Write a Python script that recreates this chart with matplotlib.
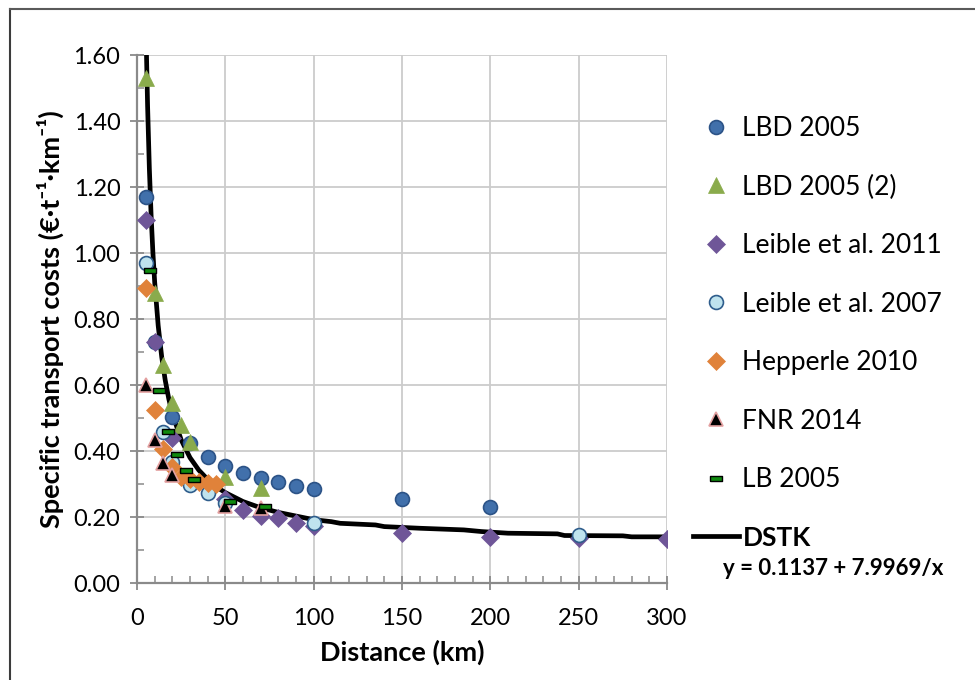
import matplotlib.pyplot as plt
from matplotlib.lines import Line2D
from matplotlib.ticker import MultipleLocator, FormatStrFormatter

plt.rcParams['font.family'] = ['Lato', 'DejaVu Sans']

# data (distance in km, cost in EUR/t/km)
lbd_x = [5, 10, 20, 30, 40, 50, 60, 70, 80, 90, 100, 150, 200]
lbd_y = [1.17, 0.73, 0.503, 0.423, 0.381, 0.356, 0.332, 0.317, 0.305, 0.295, 0.286, 0.254, 0.231]

lbd2_x = [5, 10, 15, 20, 25, 30, 50, 70]
lbd2_y = [1.53, 0.88, 0.66, 0.546, 0.479, 0.426, 0.32, 0.288]

leible11_x = [5, 10, 20, 50, 60, 70, 80, 90, 100, 150, 200, 250, 300]
leible11_y = [1.10, 0.731, 0.44, 0.255, 0.221, 0.203, 0.196, 0.181, 0.172, 0.151, 0.140, 0.135, 0.132]

leible07_x = [5, 15, 20, 30, 40, 50, 100, 250]
leible07_y = [0.97, 0.459, 0.366, 0.297, 0.272, 0.242, 0.182, 0.145]

hepperle_x = [5, 10, 15, 20, 25, 30, 35, 40, 45]
hepperle_y = [0.895, 0.525, 0.406, 0.352, 0.322, 0.315, 0.307, 0.304, 0.300]

fnr_x = [5, 10, 15, 20, 50, 70]
fnr_y = [0.60, 0.433, 0.364, 0.326, 0.233, 0.227]

lb_x = [7.5, 12.5, 17.5, 22.5, 27.5, 32.5, 52.5, 72.5]
lb_y = [0.95, 0.585, 0.46, 0.39, 0.342, 0.316, 0.248, 0.232]

# DSTK fitted curve
dstk_x = [5.3, 6, 7, 8, 9, 10, 12, 14, 16, 18, 20, 25, 30, 35, 40, 45, 50, 60, 70, 80, 90,
          100, 110, 115, 135, 140, 160, 185, 195, 210, 238, 242, 275, 280, 300]
dstk_y = [1.62, 1.446, 1.256, 1.113, 1.002, 0.913, 0.78, 0.685, 0.614, 0.558, 0.513, 0.434,
          0.38, 0.342, 0.314, 0.291, 0.274, 0.247, 0.228, 0.214, 0.203,
          0.192, 0.186, 0.181, 0.176, 0.171, 0.166, 0.161, 0.156, 0.151, 0.149, 0.144, 0.143, 0.140, 0.140]

equation = 'y = 0.1137 + 7.9969/x'

fig = plt.figure(figsize=(9.75, 6.8), dpi=100)
ax = fig.add_axes([0.1405, 0.1426, 0.5436, 0.7765])

ax.plot(dstk_x, dstk_y, color='black', linewidth=3.4, label='DSTK', zorder=2)

ms = 10
ax.plot(lbd_x, lbd_y, 'o', ms=ms, mfc='#4170ab', mec='#2c5387', mew=1.2, label='LBD 2005', zorder=3)
ax.plot(lbd2_x, lbd2_y, '^', ms=ms + 1, mfc='#8aab4c', mec='#8aab4c', mew=0.5, label='LBD 2005 (2)', zorder=3)
ax.plot(leible11_x, leible11_y, 'D', ms=ms - 1, mfc='#6f5698', mec='#6f5698', mew=0.5, label='Leible et al. 2011', zorder=3)
ax.plot(leible07_x, leible07_y, 'o', ms=ms, mfc='#bfe3ee', mec='#2f5d8c', mew=1.2, label='Leible et al. 2007', zorder=3)
ax.plot(hepperle_x, hepperle_y, 'D', ms=ms - 1, mfc='#e0823a', mec='#e0823a', mew=0.5, label='Hepperle 2010', zorder=3)
ax.plot(fnr_x, fnr_y, '^', ms=ms, mfc='black', mec='#e3a0a0', mew=1.2, label='FNR 2014', zorder=3)
dash = [(-1, -0.4), (1, -0.4), (1, 0.4), (-1, 0.4), (-1, -0.4)]
ax.plot(lb_x, lb_y, linestyle='none', marker=dash, ms=9, mfc='#0f8a0f', mec='black', mew=1.0,
        label='LB 2005', zorder=3)

ax.set_xlim(0, 300)
ax.set_ylim(0, 1.6)
ax.xaxis.set_major_locator(MultipleLocator(50))
ax.xaxis.set_minor_locator(MultipleLocator(10))
ax.yaxis.set_major_locator(MultipleLocator(0.2))
ax.yaxis.set_minor_locator(MultipleLocator(0.1))
ax.yaxis.set_major_formatter(FormatStrFormatter('%.2f'))

ax.grid(True, which='major', color='#cccccc', linewidth=1.3, zorder=0)
ax.set_axisbelow(True)
for side in ['top', 'right']:
    ax.spines[side].set_visible(False)
for side in ['left', 'bottom']:
    ax.spines[side].set_color('#8a8a8a')
    ax.spines[side].set_linewidth(1.6)

ax.tick_params(which='major', direction='inout', length=10, width=1.3, color='#8a8a8a',
               labelsize=17, pad=7)
ax.tick_params(which='minor', direction='in', length=5, width=1.1, color='#8a8a8a')
ax.tick_params(axis='x', which='major', pad=13)

ax.set_xlabel('Distance (km)', fontsize=19.5, fontweight='bold', labelpad=8)
ax.set_ylabel('Specific transport costs (€·t⁻¹·km⁻¹)', fontsize=19.5, fontweight='bold', labelpad=7)

# legend outside on the right, DSTK last
handles, labels = ax.get_legend_handles_labels()
order = [1, 2, 3, 4, 5, 6, 7, 0]
leg = fig.legend([handles[i] for i in order], [labels[i] for i in order],
                 loc='upper left', bbox_to_anchor=(0.700, 0.845), frameon=False,
                 fontsize=19, labelspacing=1.27, handlelength=1.75, handletextpad=0.12,
                 borderaxespad=0)
leg.get_texts()[-1].set_fontweight('bold')
fig.text(0.855, 0.164, equation, fontsize=16, fontweight='bold', ha='center', va='center')

# chart border (runs off the right and bottom edges)
fig.add_artist(Line2D([10 / 975, 10 / 975], [0, 1 - 9 / 680], color='#3c3c3c', linewidth=1.5))
fig.add_artist(Line2D([10 / 975, 1], [1 - 9 / 680, 1 - 9 / 680], color='#5a5a5a', linewidth=1.5))

fig.savefig('out.png', dpi=100)
